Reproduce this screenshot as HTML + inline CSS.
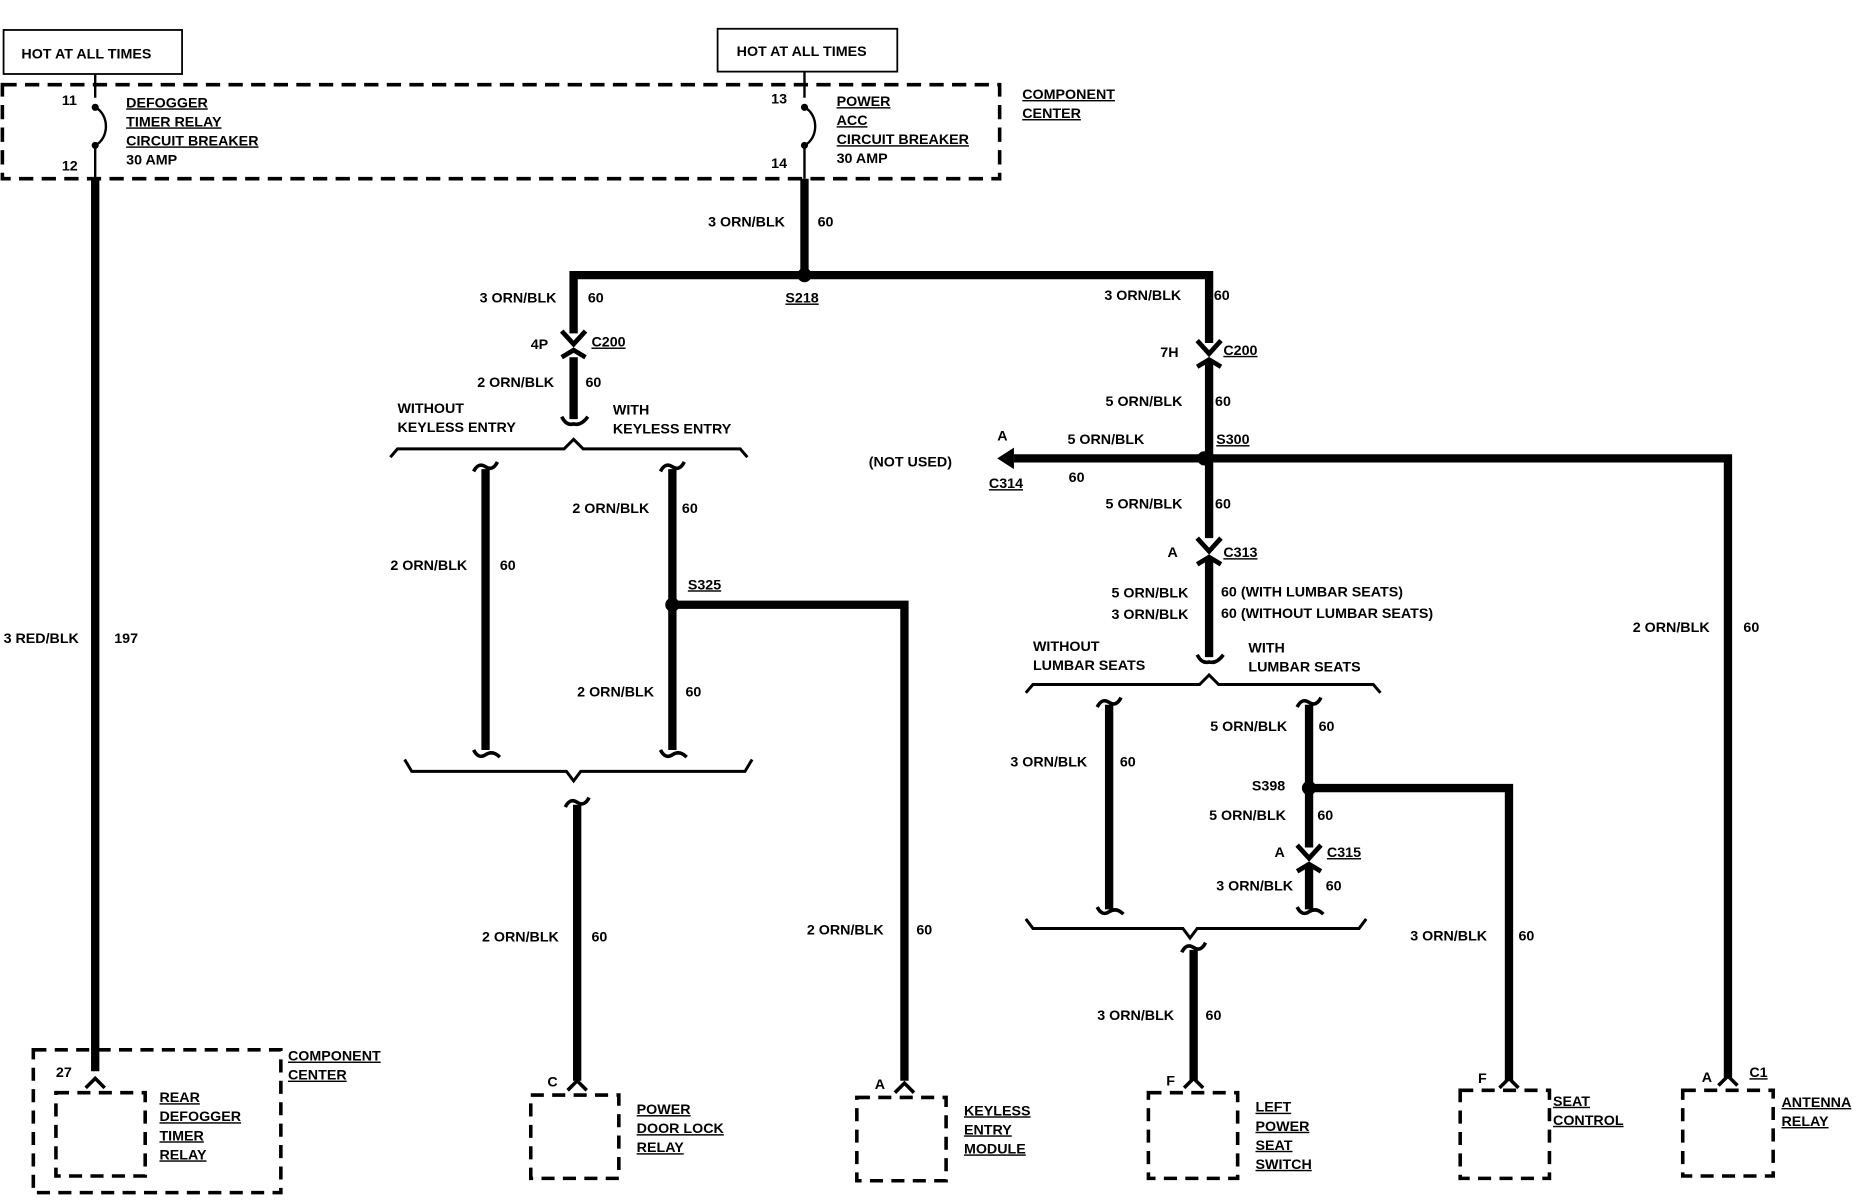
<!DOCTYPE html>
<html><head><meta charset="utf-8"><style>
html,body{margin:0;padding:0;background:#fff;}
svg{display:block;}
text{font-family:"Liberation Sans",sans-serif;font-weight:bold;font-size:12px;fill:#000;}
.u{text-decoration:underline;}
</style></head><body>
<svg width="1866" height="1200" viewBox="0 0 1568 1008" xmlns="http://www.w3.org/2000/svg">
<g fill="none" stroke="#000">
<!-- top boxes -->
<rect x="3" y="25" width="150" height="37" stroke-width="1.5"/>
<rect x="603" y="24" width="151" height="36" stroke-width="1.5"/>
<rect x="2" y="71" width="838" height="79" stroke-width="3" stroke-dasharray="12 7"/>
<!-- breakers -->
<path d="M80 62 V82 M80 90 C92 96 92 116 80 122 M80 122 V150" stroke-width="2"/>
<path d="M676 60 V82 M676 90 C688 96 688 116 676 122 M676 122 V150" stroke-width="2"/>
</g>
<circle cx="80" cy="90" r="3"/><circle cx="80" cy="122" r="3"/>
<circle cx="676" cy="90" r="3"/><circle cx="676" cy="122" r="3"/>

<g fill="none" stroke="#000" stroke-width="7">
<path d="M80 150 V900"/>
<path d="M676 150 V231 M482 280 V231 H1016 V288"/>
<path d="M482 300 V352"/>
<path d="M408 394 V630 M565 394 V630"/>
<path d="M565 508 H760 V908"/>
<path d="M485 676 V908"/>
<path d="M1016 304 V452 M1016 470 V552"/>
<path d="M852 385 H1452 V905"/>
<path d="M932 592 V764"/>
<path d="M1100 592 V712 M1100 726 V764"/>
<path d="M1100 662 H1268 V908"/>
<path d="M1003 798 V908"/>
</g>
<g fill="none" stroke="#000" stroke-width="4">
<!-- arrows/connectors -->
<path d="M472 278 L482 289 L492 278"/>
<path d="M472 300 L482 294 L492 300"/>
<path d="M1006 286 L1016 297 L1026 286"/>
<path d="M1006 308 L1016 302 L1026 308"/>
<path d="M1006 452 L1016 463 L1026 452"/>
<path d="M1006 474 L1016 468 L1026 474"/>
<path d="M1090 710 L1100 721 L1110 710"/>
<path d="M1090 732 L1100 726 L1110 732"/>
<!-- squiggles -->
<path d="M472 350 Q476 358 482 356 Q488 358 494 350" stroke-width="3"/>
<path d="M398 396 Q402 388 408 392 Q414 396 418 388" stroke-width="3"/>
<path d="M555 396 Q559 388 565 392 Q571 396 575 388" stroke-width="3"/>
<path d="M398 630 Q402 638 408 634 Q414 630 420 636" stroke-width="3"/>
<path d="M555 630 Q559 638 565 634 Q571 630 577 636" stroke-width="3"/>
<path d="M475 678 Q479 670 485 674 Q491 678 495 670" stroke-width="3"/>
<path d="M1006 550 Q1010 558 1016 556 Q1022 558 1028 550" stroke-width="3"/>
<path d="M922 594 Q926 586 932 590 Q938 594 942 586" stroke-width="3"/>
<path d="M1090 594 Q1094 586 1100 590 Q1106 594 1110 586" stroke-width="3"/>
<path d="M922 762 Q926 770 932 766 Q938 762 944 768" stroke-width="3"/>
<path d="M1090 762 Q1094 770 1100 766 Q1106 762 1112 768" stroke-width="3"/>
<path d="M993 800 Q997 792 1003 796 Q1009 800 1013 792" stroke-width="3"/>
</g>
<!-- brackets -->
<g fill="none" stroke="#000" stroke-width="2.5">
<path d="M328 384 L334 377 H474 L482 369 L490 377 H622 L628 384"/>
<path d="M340 638 L346 648 H476 L482 656 L488 648 H626 L632 638"/>
<path d="M862 582 L868 575 H1008 L1016 567 L1024 575 H1154 L1160 582"/>
<path d="M862 772 L868 780 H994 L1000 788 L1006 780 H1142 L1148 772"/>
</g>
<!-- left arrow -->
<path d="M838 385 L852 376 L852 394 Z" fill="#000"/>
<circle cx="676" cy="231" r="6"/>
<circle cx="565" cy="508" r="6"/>
<circle cx="1012" cy="385" r="6"/>
<circle cx="1100" cy="662" r="6"/>
<!-- bottom components -->
<g fill="none" stroke="#000" stroke-width="3" stroke-dasharray="11 7">
<rect x="28" y="882" width="208" height="120"/>
<rect x="47" y="918" width="75" height="70"/>
<rect x="446" y="920" width="74" height="70"/>
<rect x="720" y="922" width="75" height="70"/>
<rect x="965" y="918" width="75" height="72"/>
<rect x="1227" y="916" width="75" height="74"/>
<rect x="1414" y="916" width="76" height="72"/>
</g>
<g fill="none" stroke="#000" stroke-width="3">
<path d="M72 914 L80 906 L88 914"/>
<path d="M477 916 L485 908 L493 916"/>
<path d="M752 918 L760 910 L768 918"/>
<path d="M995 914 L1003 906 L1011 914"/>
<path d="M1260 914 L1268 906 L1276 914"/>
<path d="M1444 912 L1452 904 L1460 912"/>
</g>

<text x="18" y="49">HOT AT ALL TIMES</text>
<text x="619" y="47">HOT AT ALL TIMES</text>
<text x="52" y="88">11</text><text x="52" y="143">12</text>
<text x="648" y="87">13</text><text x="648" y="141">14</text>
<text x="106" y="90" class="u">DEFOGGER</text>
<text x="106" y="106" class="u">TIMER RELAY</text>
<text x="106" y="122" class="u">CIRCUIT BREAKER</text>
<text x="106" y="138">30 AMP</text>
<text x="703" y="89" class="u">POWER</text>
<text x="703" y="105" class="u">ACC</text>
<text x="703" y="121" class="u">CIRCUIT BREAKER</text>
<text x="703" y="137">30 AMP</text>
<text x="859" y="83" class="u">COMPONENT</text>
<text x="859" y="99" class="u">CENTER</text>
<text x="3" y="540">3 RED/BLK</text><text x="96" y="540">197</text>
<text x="595" y="190">3 ORN/BLK</text><text x="687" y="190">60</text>
<text x="660" y="254" class="u">S218</text>
<text x="403" y="254">3 ORN/BLK</text><text x="494" y="254">60</text>
<text x="446" y="293">4P</text><text x="497" y="291" class="u">C200</text>
<text x="401" y="325">2 ORN/BLK</text><text x="492" y="325">60</text>
<text x="334" y="347">WITHOUT</text><text x="334" y="363">KEYLESS ENTRY</text>
<text x="515" y="348">WITH</text><text x="515" y="364">KEYLESS ENTRY</text>
<text x="328" y="479">2 ORN/BLK</text><text x="420" y="479">60</text>
<text x="481" y="431">2 ORN/BLK</text><text x="573" y="431">60</text>
<text x="578" y="495" class="u">S325</text>
<text x="485" y="585">2 ORN/BLK</text><text x="576" y="585">60</text>
<text x="405" y="791">2 ORN/BLK</text><text x="497" y="791">60</text>
<text x="678" y="785">2 ORN/BLK</text><text x="770" y="785">60</text>
<text x="928" y="252">3 ORN/BLK</text><text x="1020" y="252">60</text>
<text x="975" y="300">7H</text><text x="1028" y="298" class="u">C200</text>
<text x="929" y="341">5 ORN/BLK</text><text x="1021" y="341">60</text>
<text x="838" y="370">A</text>
<text x="897" y="373">5 ORN/BLK</text>
<text x="1022" y="373" class="u">S300</text>
<text x="730" y="392">(NOT USED)</text>
<text x="831" y="410" class="u">C314</text><text x="898" y="405">60</text>
<text x="929" y="427">5 ORN/BLK</text><text x="1021" y="427">60</text>
<text x="981" y="468">A</text><text x="1028" y="468" class="u">C313</text>
<text x="934" y="502">5 ORN/BLK</text><text x="1026" y="501">60 (WITH LUMBAR SEATS)</text>
<text x="934" y="520">3 ORN/BLK</text><text x="1026" y="519">60 (WITHOUT LUMBAR SEATS)</text>
<text x="868" y="547">WITHOUT</text><text x="868" y="563">LUMBAR SEATS</text>
<text x="1049" y="548">WITH</text><text x="1049" y="564">LUMBAR SEATS</text>
<text x="849" y="644">3 ORN/BLK</text><text x="941" y="644">60</text>
<text x="1017" y="614">5 ORN/BLK</text><text x="1108" y="614">60</text>
<text x="1052" y="664">S398</text>
<text x="1016" y="689">5 ORN/BLK</text><text x="1107" y="689">60</text>
<text x="1071" y="720">A</text><text x="1115" y="720" class="u">C315</text>
<text x="1022" y="748">3 ORN/BLK</text><text x="1114" y="748">60</text>
<text x="922" y="857">3 ORN/BLK</text><text x="1013" y="857">60</text>
<text x="1185" y="790">3 ORN/BLK</text><text x="1276" y="790">60</text>
<text x="1372" y="531">2 ORN/BLK</text><text x="1465" y="531">60</text>
<text x="47" y="905">27</text>
<text x="134" y="926" class="u">REAR</text>
<text x="134" y="942" class="u">DEFOGGER</text>
<text x="134" y="958" class="u">TIMER</text>
<text x="134" y="974" class="u">RELAY</text>
<text x="242" y="891" class="u">COMPONENT</text>
<text x="242" y="907" class="u">CENTER</text>
<text x="460" y="913">C</text>
<text x="535" y="936" class="u">POWER</text>
<text x="535" y="952" class="u">DOOR LOCK</text>
<text x="535" y="968" class="u">RELAY</text>
<text x="735" y="915">A</text>
<text x="810" y="937" class="u">KEYLESS</text>
<text x="810" y="953" class="u">ENTRY</text>
<text x="810" y="969" class="u">MODULE</text>
<text x="980" y="912">F</text>
<text x="1055" y="934" class="u">LEFT</text>
<text x="1055" y="950" class="u">POWER</text>
<text x="1055" y="966" class="u">SEAT</text>
<text x="1055" y="982" class="u">SWITCH</text>
<text x="1242" y="910">F</text>
<text x="1305" y="929" class="u">SEAT</text>
<text x="1305" y="945" class="u">CONTROL</text>
<text x="1430" y="909">A</text><text x="1470" y="905" class="u">C1</text>
<text x="1497" y="930" class="u">ANTENNA</text>
<text x="1497" y="946" class="u">RELAY</text>
</svg>
</body></html>
